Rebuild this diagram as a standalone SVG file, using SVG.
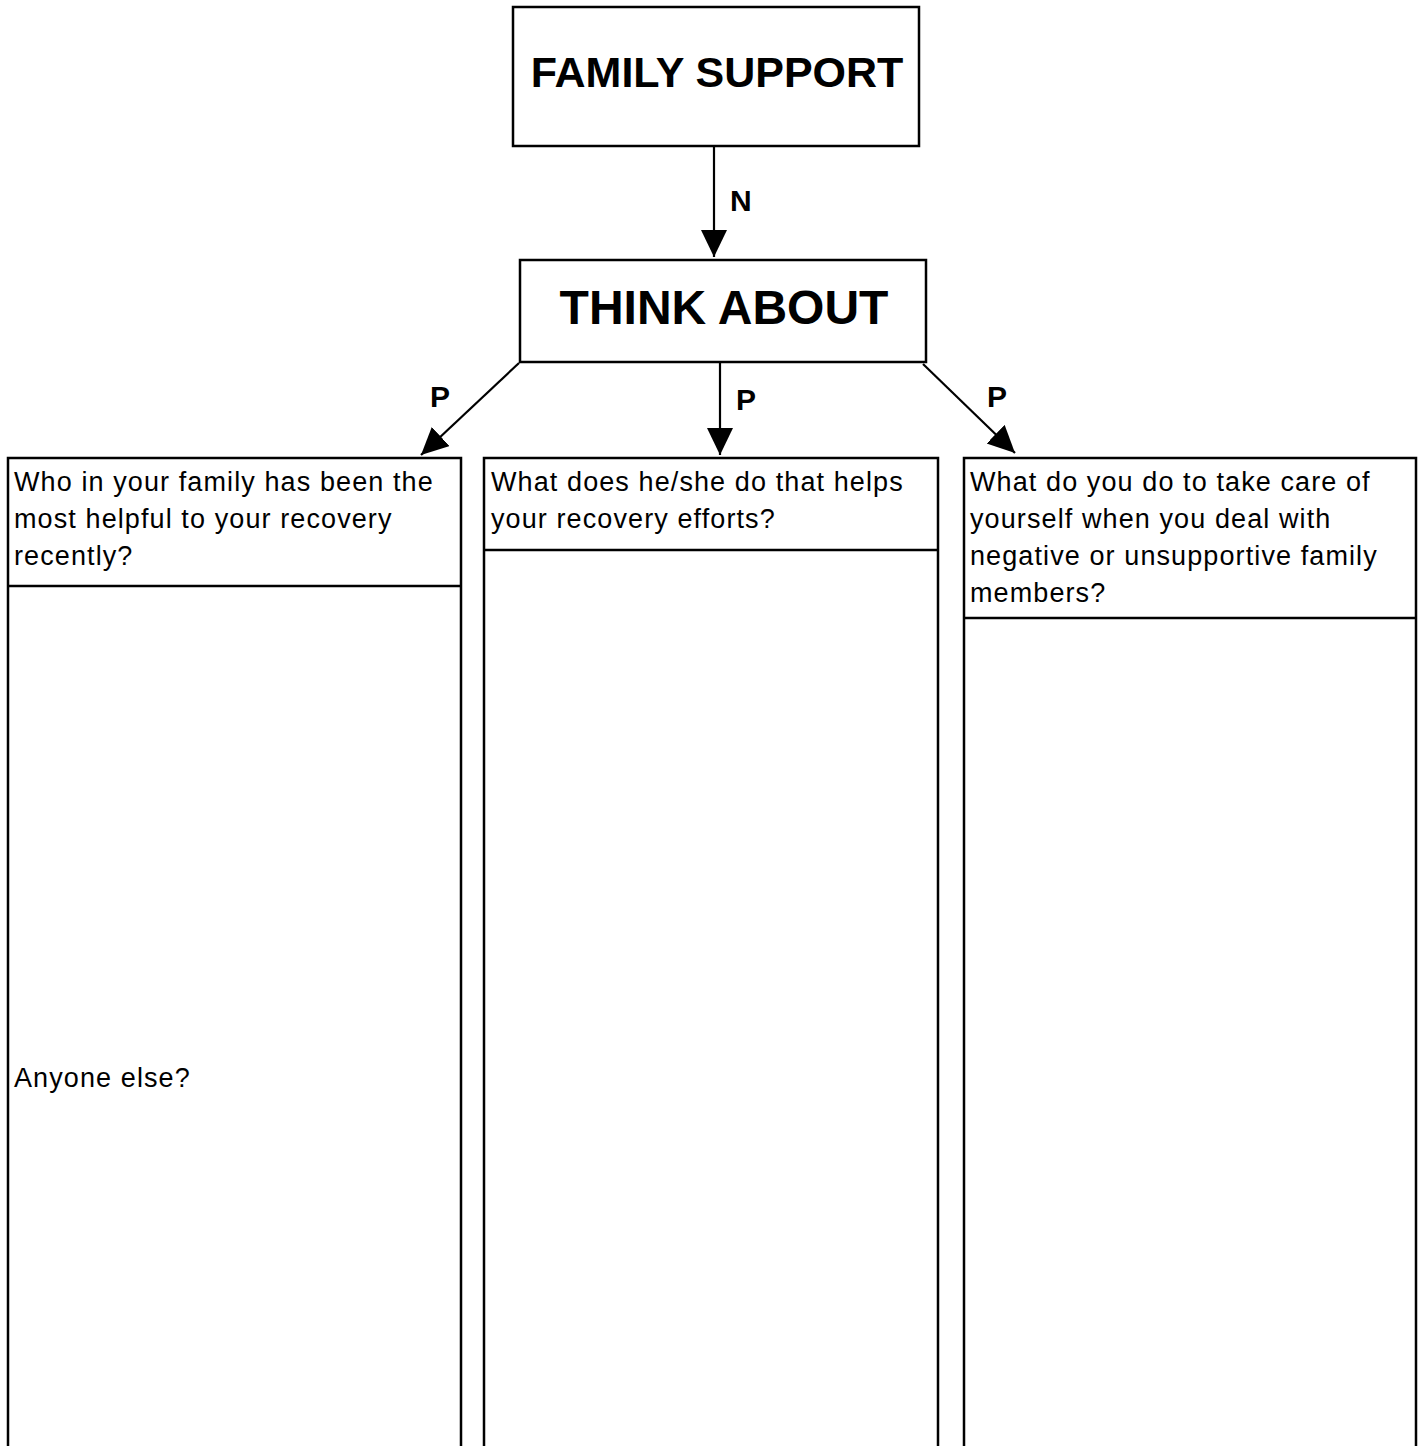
<svg xmlns="http://www.w3.org/2000/svg" width="1422" height="1446" viewBox="0 0 1422 1446">
  <style>
    .box { fill: #fff; stroke: #000; stroke-width: 2.5; }
    .open { fill: none; stroke: #000; stroke-width: 2.5; }
    .title { font-family: "Liberation Sans", Arial, sans-serif; font-weight: bold; fill: #000; text-anchor: middle; }
    .lbl { font-family: "Liberation Sans", Arial, sans-serif; font-weight: bold; font-size: 30px; fill: #000; }
    .q { font-family: "Liberation Sans", Arial, sans-serif; font-size: 27px; letter-spacing: 1.1px; fill: #000; }
    .edge { stroke: #000; stroke-width: 2.2; fill: none; marker-end: url(#arrow); }
  </style>
  <defs>
    <marker id="arrow" markerUnits="userSpaceOnUse" markerWidth="28" markerHeight="27" refX="27" refY="13" orient="auto">
      <path d="M0,0 L27,13 L0,26 z" fill="#000"/>
    </marker>
  </defs>
  <rect width="1422" height="1446" fill="#fff"/>

  <g id="family-support">
    <rect class="box" x="513" y="7" width="406" height="139"/>
    <text class="title" x="717" y="87" font-size="43">FAMILY SUPPORT</text>
  </g>

  <g id="think-about">
    <rect class="box" x="520" y="260" width="406" height="102"/>
    <text class="title" x="724" y="324" font-size="48">THINK ABOUT</text>
  </g>

  <g id="who-helped">
    <path class="open" d="M8,1450 V458 H461 V1450"/>
    <line class="open" x1="8" y1="586" x2="461" y2="586"/>
    <text class="q">
      <tspan x="14" y="491">Who in your family has been the</tspan>
      <tspan x="14" y="528">most helpful to your recovery</tspan>
      <tspan x="14" y="565">recently?</tspan>
    </text>
    <text class="q" x="14" y="1087">Anyone else?</text>
  </g>

  <g id="what-helps">
    <path class="open" d="M484,1450 V458 H938 V1450"/>
    <line class="open" x1="484" y1="550" x2="938" y2="550"/>
    <text class="q">
      <tspan x="491" y="491">What does he/she do that helps</tspan>
      <tspan x="491" y="528">your recovery efforts?</tspan>
    </text>
  </g>

  <g id="self-care">
    <path class="open" d="M964,1450 V458 H1416 V1450"/>
    <line class="open" x1="964" y1="618" x2="1416" y2="618"/>
    <text class="q">
      <tspan x="970" y="491">What do you do to take care of</tspan>
      <tspan x="970" y="528">yourself when you deal with</tspan>
      <tspan x="970" y="565">negative or unsupportive family</tspan>
      <tspan x="970" y="602">members?</tspan>
    </text>
  </g>

  <g id="connectors">
    <line class="edge" x1="714" y1="147" x2="714" y2="257"/>
    <text class="lbl" x="730" y="211">N</text>
    <line class="edge" x1="519" y1="363" x2="421" y2="455"/>
    <text class="lbl" x="430" y="407">P</text>
    <line class="edge" x1="720" y1="363" x2="720" y2="455"/>
    <text class="lbl" x="736" y="410">P</text>
    <line class="edge" x1="923" y1="364" x2="1015" y2="453"/>
    <text class="lbl" x="987" y="407">P</text>
  </g>
</svg>
